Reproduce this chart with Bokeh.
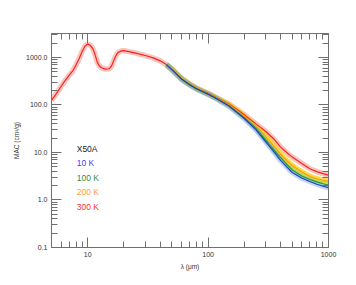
from bokeh.plotting import figure
from bokeh.models import FixedTicker, LogAxis, Label, CustomJSTickFormatter
from bokeh.embed import file_html
from bokeh.resources import INLINE

# ---- data ----
wl_300 = [5, 5.5, 6, 6.5, 7, 7.5, 8, 8.5, 9, 9.5, 10, 10.5, 11, 11.5, 12, 12.5, 13, 14, 15, 15.5,
          16, 16.5, 17, 17.5, 18, 19, 20, 22, 25, 30, 35, 40, 45, 50, 55, 60, 70, 80, 90, 100,
          120, 150, 200, 250, 300, 350, 400, 450, 500, 600, 700, 800, 900, 1000]
mac_300 = [125, 175, 245, 330, 420, 520, 700, 950, 1350, 1750, 1920, 1800, 1560, 1150, 800, 660, 610,
           570, 580, 620, 720, 880, 1050, 1200, 1290, 1380, 1390, 1330, 1240, 1100, 980, 850, 710,
           565, 445, 355, 272, 224, 197, 177, 138, 104, 62, 40, 28, 19.5, 13, 10, 8.0, 5.9, 4.55,
           3.95, 3.6, 3.35]

wl_cold = [45, 50, 60, 70, 80, 100, 120, 150, 200, 250, 300, 350, 400, 450, 500, 600, 700, 800, 900, 1000]
mac_200 = [712, 572, 365, 279, 226, 172, 136, 101, 58, 35, 21.5, 14, 9.2, 6.8, 5.3, 3.9, 3.15, 2.8, 2.6, 2.5]
mac_100 = [708, 555, 352, 268, 218, 169, 133, 95, 54, 32, 18.5, 11.5, 7.8, 5.6, 4.3, 3.2, 2.7, 2.4, 2.2, 2.07]
mac_10 = [708, 556, 354, 270, 219, 168, 132, 94, 52, 30, 17, 10.5, 6.8, 5.0, 3.8, 2.9, 2.45, 2.15, 1.95, 1.82]

x_major = [10, 100, 1000]
x_labels = ["10", "100", "1000"]
x_minor = [5, 6, 7, 8, 9, 20, 30, 40, 50, 60, 70, 80, 90, 200, 300, 400, 500, 600, 700, 800, 900]
y_major = [0.1, 1, 10, 100, 1000]
y_labels = ["0.1", "1.0", "10.0", "100.0", "1000.0"]
y_minor = [0.2, 0.3, 0.4, 0.5, 0.6, 0.7, 0.8, 0.9, 2, 3, 4, 5, 6, 7, 8, 9,
           20, 30, 40, 50, 60, 70, 80, 90, 200, 300, 400, 500, 600, 700, 800, 900, 2000, 3000]

legend_title = "X50A"
legend_labels = ["10 K", "100 K", "200 K", "300 K"]

# ---- figure ----
p = figure(x_axis_type="log", y_axis_type="log", x_range=(5, 1000), y_range=(0.1, 3200),
           frame_width=277, frame_height=214,
           min_border_left=51, min_border_right=20, min_border_top=33, min_border_bottom=30,
           output_backend="svg", toolbar_location=None)
p.xgrid.visible = False
p.ygrid.visible = False
p.outline_line_color = "#707070"
p.background_fill_color = "white"
p.border_fill_color = "white"

xt = FixedTicker(ticks=x_major, minor_ticks=x_minor)
yt = FixedTicker(ticks=y_major, minor_ticks=y_minor)

LOOKUP = """
let best = 0, bd = Infinity;
for (let i = 0; i < tv.length; i++) {
  const d = Math.abs(Math.log10(tick) - Math.log10(tv[i]));
  if (d < bd) { bd = d; best = i; }
}
return tl[best];
"""

def style(ax):
    ax.axis_line_color = "#707070"
    ax.major_tick_line_color = "#707070"
    ax.minor_tick_line_color = "#707070"
    ax.major_tick_in = 10
    ax.major_tick_out = 0
    ax.minor_tick_in = 6
    ax.minor_tick_out = 0
    ax.major_label_text_font = "Liberation Sans"
    ax.major_label_text_font_size = "7px"
    ax.major_label_text_color = "#333333"
    ax.axis_label_text_font = "Liberation Sans"
    ax.axis_label_text_font_size = "6.5px"
    ax.axis_label_text_font_style = "normal"
    ax.axis_label_text_color = "#333333"

p.xaxis.ticker = xt
p.yaxis.ticker = yt
p.xaxis.formatter = CustomJSTickFormatter(args=dict(tv=x_major, tl=x_labels), code=LOOKUP)
p.yaxis.formatter = CustomJSTickFormatter(args=dict(tv=y_major, tl=y_labels), code=LOOKUP)
p.xaxis.axis_label = "λ (μm)"
p.yaxis.axis_label = "MAC (cm²/g)"
for ax in p.xaxis + p.yaxis:
    style(ax)
    ax.major_label_standoff = 4
    ax.axis_label_standoff = 3

top = LogAxis(ticker=xt)
right = LogAxis(ticker=yt)
for ax in (top, right):
    style(ax)
    ax.major_label_text_alpha = 0
    ax.major_label_text_font_size = "1px"
    ax.major_label_standoff = 0
p.add_layout(top, "above")
p.add_layout(right, "right")

# ---- curves ----
series = [
    (wl_300, mac_300, "#ff2020", "#f08070", 0.45),
    (wl_cold, mac_200, "#ffa000", "#ffcc00", 0.7),
    (wl_cold, mac_100, "#20a020", "#70d070", 0.45),
    (wl_cold, mac_10, "#2040c0", "#7090ff", 0.4),
]
for xs, ys, lc, bc, ba in series:
    p.line(xs, ys, line_width=5.5, line_color=bc, line_alpha=ba)
for xs, ys, lc, bc, ba in series:
    p.line(xs, ys, line_width=1.2, line_color=lc)

# ---- text legend ----
leg_x = 8.1
leg_y = [11.9, 5.9, 2.95, 1.47, 0.72]
leg_txt = [legend_title] + legend_labels
leg_col = ["#222222", "#4040ff", "#3a8a3a", "#ffa030", "#ff3030"]
for yy, tt, cc in zip(leg_y, leg_txt, leg_col):
    p.add_layout(Label(x=leg_x, y=yy, text=tt, text_color=cc, text_font="Liberation Sans",
                       text_font_size="8.5px", text_baseline="middle", text_align="left"))

open("out.html", "w").write(file_html(p, INLINE))
